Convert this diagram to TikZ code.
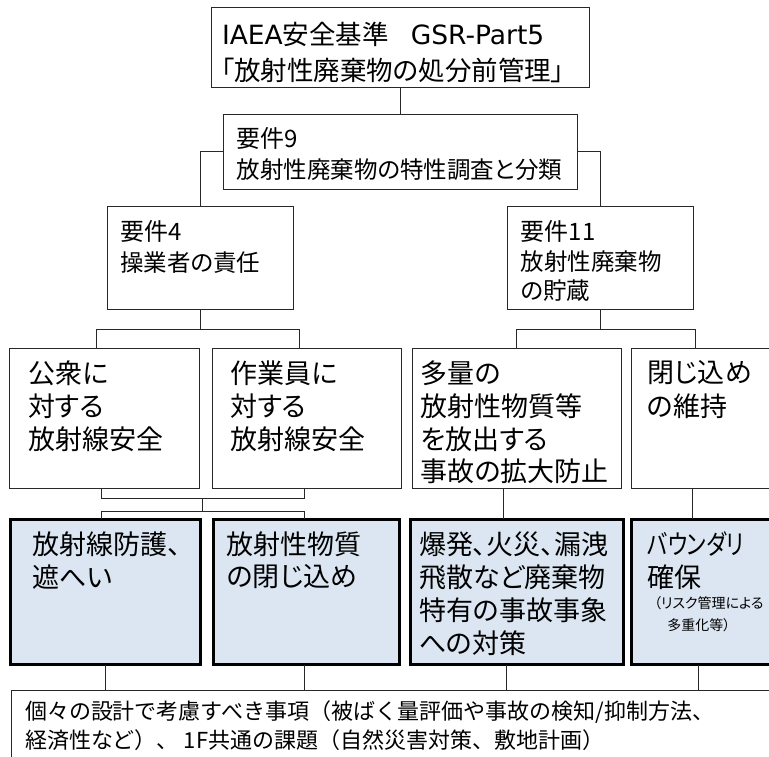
\documentclass[tikz,border=0pt]{standalone}
\usepackage{graphicx}
\usepackage{fontspec}
\setmainfont{Noto Sans CJK JP}
\newfontfamily\pj[RawFeature=+palt]{Noto Sans CJK JP}
\newfontfamily\lat{DejaVu Sans}
\usetikzlibrary{calc}
\definecolor{boxblue}{RGB}{220,230,242}
\definecolor{linegray}{RGB}{40,40,40}
\newcommand{\myftop}{\pj\fontsize{26.5pt}{32pt}\selectfont}
\newcommand{\myfreq}{\pj\fontsize{24pt}{30pt}\selectfont}
\newcommand{\myfsub}{\pj\fontsize{23.5pt}{30pt}\selectfont}
\newcommand{\myfbig}{\pj\fontsize{27pt}{33pt}\selectfont}
\newcommand{\myfsmall}{\pj\fontsize{14pt}{18pt}\selectfont}
\newcommand{\myfbot}{\fontsize{22pt}{28pt}\selectfont}
\tikzset{
  box/.style={draw=linegray, line width=1pt, fill=white, inner sep=0pt, outer sep=0pt},
  bluebox/.style={draw=black, line width=3pt, fill=boxblue, inner sep=0pt, outer sep=0pt},
  txt/.style={anchor=west, inner sep=0pt, outer sep=0pt},
  conn/.style={draw=linegray, line width=1pt},
}
\begin{document}
\begin{tikzpicture}[x=1pt,y=-1pt]
\useasboundingbox (0,0) rectangle (769,756);
\fill[white] (0,0) rectangle (769,756);
\clip (0,0) rectangle (769,756);

% boxes
\node[box, minimum width=378pt, minimum height=80pt] (top) at (400,47) {};
\node[box, minimum width=354pt, minimum height=75pt] (req9) at (400,151.5) {};
\node[box, minimum width=186pt, minimum height=103pt] (req4) at (200,257.5) {};
\node[box, minimum width=186pt, minimum height=103pt] (req11) at (600,257.5) {};
\node[box, minimum width=190pt, minimum height=140pt] (r3a) at (104.5,418) {};
\node[box, minimum width=189pt, minimum height=140pt] (r3b) at (306.5,418) {};
\node[box, minimum width=209pt, minimum height=140pt] (r3c) at (517,418) {};
\node[box, minimum width=168.5pt, minimum height=140pt] (r3d) at (715.75,418) {};
\node[bluebox, minimum width=189.4pt, minimum height=145.3pt] (r4a) at (105.5,591.85) {};
\node[bluebox, minimum width=186pt, minimum height=145.3pt] (r4b) at (306.5,591.85) {};
\node[bluebox, minimum width=213pt, minimum height=145.3pt] (r4c) at (517,591.85) {};
\node[bluebox, minimum width=168.5pt, minimum height=145.3pt] (r4d) at (715.75,591.85) {};
\node[box, minimum width=788.3pt, minimum height=89.3pt] (bot) at (405.85,735.35) {};

% connectors
\draw[conn] (top.south) -- (req9.north);
\draw[conn] (req9.west) -| (req4.north);
\draw[conn] (req9.east) -| (req11.north);

\coordinate (j4) at (200,329.3);
\draw[conn] (req4.south) -- (j4);
\draw[conn] ($(r3a.north)+(-7.8,0)$) |- (j4) -| ($(r3b.north)+(-7.5,0)$);

\coordinate (j11) at (600,329.3);
\draw[conn] (req11.south) -- (j11);
\draw[conn] ($(r3c.north)+(-0.3,0)$) |- (j11) -| ($(r3d.north)+(-20.75,0)$);

\coordinate (m1) at (202.7,498.3);
\coordinate (m2) at (202.7,511.7);
\draw[conn] ($(r3a.south)+(-2.8,0)$) |- (m1) -| ($(r3b.south)+(-2.5,0)$);
\draw[conn] (m1) -- (m2);
\draw[conn] ($(r4a.north)+(-3.8,0)$) |- (m2) -| ($(r4b.north)+(-2.5,0)$);

\draw[conn] ($(r3c.south)+(-13.7,0)$) -- ($(r4c.north)+(-13.7,0)$);
\draw[conn] ($(r3d.south)+(-23.45,0)$) -- ($(r4d.north)+(-23.45,0)$);

\coordinate (p1) at ($(r4a.south)+(-0.5,0)$);
\coordinate (p2) at ($(r4b.south)+(-2.5,0)$);
\coordinate (p3) at ($(r4c.south)+(-10.3,0)$);
\coordinate (p4) at ($(r4d.south)+(-17.45,0)$);
\draw[conn] (p1) -- (p1 |- bot.north);
\draw[conn] (p2) -- (p2 |- bot.north);
\draw[conn] (p3) -- (p3 |- bot.north);
\draw[conn] (p4) -- (p4 |- bot.north);

% texts
\node[txt, font=\myftop] (t1) at (222,34) {{\lat IAEA}安全基準\hspace{22pt}{\lat GSR-Part5}};
\node[txt, font=\myftop] (t2) at (221,70) {「放射性廃棄物の処分前管理」};

\node[txt, font=\myfreq] (t3) at (236.7,138) {要件9};
\node[txt, font=\myfsub] (t4) at (236.7,170) {放射性廃棄物の特性調査と分類};

\node[txt, font=\myfreq] (t5) at (120,231) {要件4};
\node[txt, font=\myfsub] (t6) at (120,263) {操業者の責任};

\node[txt, font=\myfreq] (t7) at (520.7,231) {要件11};
\node[txt, font=\myfsub] (t8) at (520.7,262) {放射性廃棄物};
\node[txt, font=\myfsub] (t9) at (520.7,291) {の貯蔵};

\node[txt, font=\myfbig] (a1) at (28.3,373) {公衆に};
\node[txt, font=\myfbig] (a2) at (28.3,406) {対する};
\node[txt, font=\myfbig] (a3) at (28.3,439) {放射線安全};

\node[txt, font=\myfbig] (b1) at (230.7,373) {作業員に};
\node[txt, font=\myfbig] (b2) at (230.7,406) {対する};
\node[txt, font=\myfbig] (b3) at (230.7,439) {放射線安全};

\node[txt, font=\myfbig] (c1) at (420.7,373) {多量の};
\node[txt, font=\myfbig] (c2) at (420.7,406) {放射性物質等};
\node[txt, font=\myfbig] (c3) at (420.7,439) {を放出する};
\node[txt, font=\myfbig] (c4) at (420.7,471) {事故の拡大防止};

\node[txt, font=\myfbig] (d1) at (647.3,373) {閉じ込め};
\node[txt, font=\myfbig] (d2) at (647.3,406) {の維持};

\node[txt, font=\myfbig] (e1) at (32.3,544) {放射線防護、};
\node[txt, font=\myfbig] (e2) at (32.3,577) {遮へい};

\node[txt, font=\myfbig] (f1) at (226.7,544) {放射性物質};
\node[txt, font=\myfbig] (f2) at (226.7,577) {の閉じ込め};

\node[txt, font=\myfbig] (g1) at (419,544) {爆発、火災、漏洩};
\node[txt, font=\myfbig] (g2) at (419,577) {飛散など廃棄物};
\node[txt, font=\myfbig] (g3) at (419,610) {特有の事故事象};
\node[txt, font=\myfbig] (g4) at (419,643) {への対策};

\node[txt, font=\myfbig] (h1) at (647.3,544) {\scalebox{0.8}[1]{バウンダリ}};
\node[txt, font=\myfbig] (h2) at (647.3,577) {確保};
\node[txt, font=\myfsmall] (h3) at (654,603.5) {（リスク管理による};
\node[txt, font=\myfsmall] (h4) at (667.3,625) {多重化等）};

\node[txt, font=\myfbot] (k1) at (25,712) {個々の設計で考慮すべき事項（被ばく量評価や事故の検知/抑制方法、};
\node[txt, font=\myfbot] (k2) at (25,740) {経済性など）、 1F共通の課題（自然災害対策、敷地計画）};
\end{tikzpicture}
\end{document}
